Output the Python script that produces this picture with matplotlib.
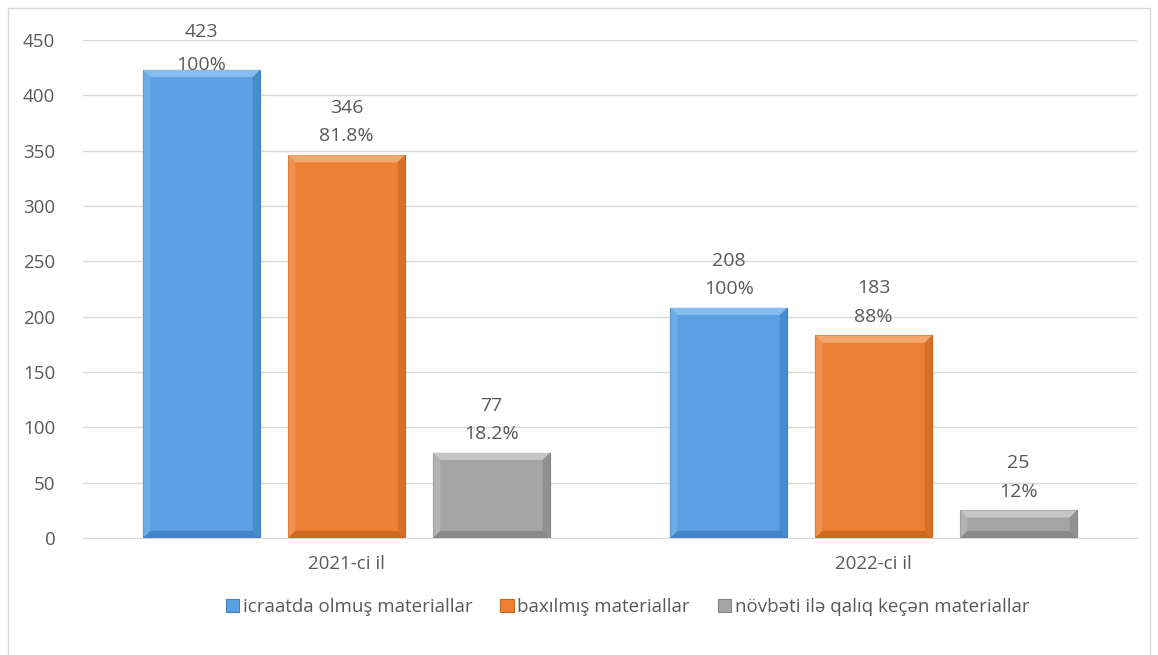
import numpy as np
import matplotlib.pyplot as plt
from matplotlib.patches import Polygon, Rectangle

categories = ['2021-ci il', '2022-ci il']
series_names = ['icraatda olmuş materiallar', 'baxılmış materiallar',
                'növbəti ilə qalıq keçən materiallar']
values = [[423, 208], [346, 183], [77, 25]]
pct_labels = [['100%', '100%'], ['81.8%', '88%'], ['18.2%', '12%']]
y_ticks = [0, 50, 100, 150, 200, 250, 300, 350, 400, 450]

face_colors = ['#5AA0E2', '#EE8035', '#A5A5A5']
light_colors = ['#86BCEE', '#F4A66F', '#C6C6C6']
dark_colors = ['#3F80C0', '#C8641F', '#858585']
text_color = '#595959'

plt.rcParams['font.family'] = ['Open Sans', 'DejaVu Sans']

fig = plt.figure(figsize=(11.58, 6.55), dpi=100)
ax = fig.add_axes([0.0717, 0.1786, 0.9103, 0.7603])

# outer chart border
fig.patches.append(Rectangle((8 / 1158, -0.01), 1142 / 1158, 1 - 8 / 655 + 0.01,
                             transform=fig.transFigure, fill=False,
                             edgecolor='#D9D9D9', linewidth=1))

x = np.arange(len(categories))
width = 0.222
offsets = [-0.275, 0, 0.275]

bev_x = 0.014
bev_y = 6.5

for i, name in enumerate(series_names):
    bars = ax.bar(x + offsets[i], values[i], width, color=face_colors[i],
                  edgecolor=dark_colors[i], linewidth=0.8, label=name, zorder=3)
    for j, b in enumerate(bars):
        x0, w, h = b.get_x(), b.get_width(), b.get_height()
        x1 = x0 + w
        bv = min(bev_y, h / 2)
        # bevel: top light, sides/bottom darker
        ax.add_patch(Polygon([[x0, h], [x1, h], [x1 - bev_x, h - bv], [x0 + bev_x, h - bv]],
                             closed=True, color=light_colors[i], lw=0, zorder=4))
        ax.add_patch(Polygon([[x0, 0], [x0, h], [x0 + bev_x, h - bv], [x0 + bev_x, bv]],
                             closed=True, color=light_colors[i], alpha=0.45, lw=0, zorder=4))
        ax.add_patch(Polygon([[x1, 0], [x1, h], [x1 - bev_x, h - bv], [x1 - bev_x, bv]],
                             closed=True, color=dark_colors[i], alpha=0.6, lw=0, zorder=4))
        ax.add_patch(Polygon([[x0, 0], [x1, 0], [x1 - bev_x, bv], [x0 + bev_x, bv]],
                             closed=True, color=dark_colors[i], alpha=0.85, lw=0, zorder=4))
        # labels pushed down when they would run off the top of the chart
        dy = 7 if h < 400 else -3
        ls = 1.75 if h < 400 else 2.1
        ax.annotate(f'{values[i][j]}\n{pct_labels[i][j]}', (b.get_x() + w / 2, h),
                    xytext=(0, dy), textcoords='offset points', ha='center', va='bottom',
                    fontsize=14, color=text_color, linespacing=ls, zorder=5,
                    annotation_clip=False)

ax.set_xlim(-0.5, 1.5)
ax.set_ylim(0, 450)
ax.set_yticks(y_ticks)
ax.set_xticks(x)
ax.set_xticklabels(categories)
ax.tick_params(length=0, labelsize=13.5, colors=text_color)
ax.tick_params(axis='x', pad=12)
ax.tick_params(axis='y', pad=20)
ax.grid(axis='y', color='#D9D9D9', linewidth=1, zorder=0)
for s in ['top', 'right', 'left']:
    ax.spines[s].set_visible(False)
ax.spines['bottom'].set_color('#D9D9D9')

handles, labels = ax.get_legend_handles_labels()
fig.legend(handles, labels, loc='center', bbox_to_anchor=(0.542, 0.073), ncol=3,
           frameon=False, fontsize=13.5, labelcolor=text_color, handlelength=0.7,
           handleheight=0.7, handletextpad=0.2, columnspacing=1.5)

fig.savefig('out.png', dpi=100)
